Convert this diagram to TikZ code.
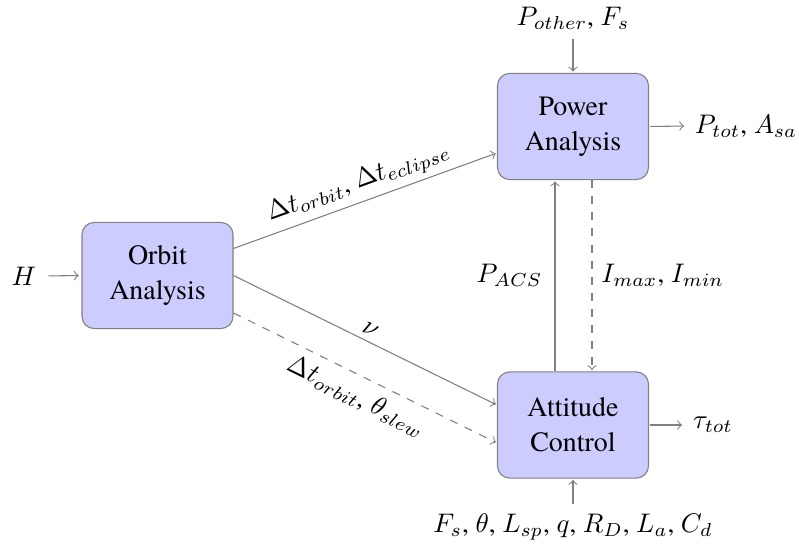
\documentclass[tikz,border=0pt]{standalone}
\usepackage[no-math]{fontspec}
\setmainfont{texgyretermes}[Extension=.otf, UprightFont=*-regular, BoldFont=*-bold, ItalicFont=*-italic]
\usetikzlibrary{calc}
\begin{document}
\begin{tikzpicture}[x=0.3723pt,y=-0.3723pt,
  box/.style={draw=gray, fill=blue!20, rounded corners=4.5pt, minimum width=56.2pt, minimum height=39.5pt, align=center, font=\rmfamily\fontsize{10.4}{13}\selectfont},
  conn/.style={draw=gray, ->},
  lbl/.style={inner sep=2pt}]
\useasboundingbox (0,0) rectangle (799,550);
\node[box] (orb) at (157.5,275.5) {Orbit\\Analysis};
\node[box] (pow) at (573,126.5) {Power\\Analysis};
\node[box] (att) at (573,425) {Attitude\\Control};
\node (H) at (24,276) {$H$};
\node (po) at (573,18) {$P_{other}$, $F_s$};
\node (pt) at (746,126) {$P_{tot}$, $A_{sa}$};
\node (tt) at (713,425) {$\tau_{tot}$};
\node (bot) at (573,527) {$F_s$, $\theta$, $L_{sp}$, $q$, $R_D$, $L_a$, $C_d$};
\draw[conn, shorten <=1pt, shorten >=1pt] (H.east) -- (orb.west);
\draw[conn, shorten >=0.5pt] (po.south) -- (pow.north);
\draw[conn, shorten <=0.5pt, shorten >=0.5pt] (pow.east) -- (pt.west);
\draw[conn, shorten <=0.5pt, shorten >=0.5pt] (att.east) -- (tt.west);
\draw[conn, shorten >=0.5pt] (bot.north) -- (att.south);
\draw[conn, shorten >=0.5pt] ($(orb.east)+(0,-27)$) -- node[sloped, above, lbl] {$\Delta t_{orbit}$, $\Delta t_{eclipse}$} ($(pow.west)+(0,26.5)$);
\draw[conn, shorten >=0.5pt] (orb.east) -- node[sloped, above, lbl] {$\nu$} ($(att.west)+(0,-20)$);
\draw[conn, dashed, shorten >=0.5pt] ($(orb.east)+(0,37.5)$) -- node[sloped, below] {$\Delta t_{orbit}$, $\theta_{slew}$} ($(att.west)+(0,18)$);
\draw[conn, shorten >=0.5pt] ($(att.north)+(-18,0)$) -- node[left, inner sep=4.5pt] {$P_{ACS}$} ($(pow.south)+(-18,0)$);
\draw[conn, dashed, shorten >=0.5pt] ($(pow.south)+(19,0)$) -- node[right] {$I_{max}$, $I_{min}$} ($(att.north)+(19,0)$);
\end{tikzpicture}
\end{document}
